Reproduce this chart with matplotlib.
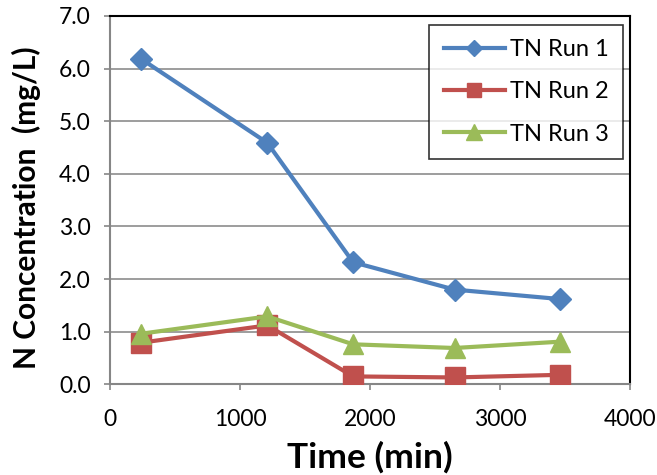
import matplotlib
matplotlib.use("Agg")
import matplotlib.pyplot as plt
from matplotlib.ticker import MultipleLocator, FormatStrFormatter

plt.rcParams['font.family'] = ['Lato', 'DejaVu Sans']

time_min = [236, 1210, 1870, 2650, 3462]
tn_run1 = [6.19, 4.59, 2.32, 1.80, 1.62]
tn_run2 = [0.79, 1.12, 0.15, 0.13, 0.18]
tn_run3 = [0.96, 1.29, 0.76, 0.69, 0.81]
series_labels = ["TN Run 1", "TN Run 2", "TN Run 3"]

W, H = 657, 475
fig = plt.figure(figsize=(W / 100, H / 100), dpi=100)
ax = fig.add_axes([110 / W, 1 - 384.3 / H, 520 / W, 368.3 / H])

ax.plot(time_min, tn_run1, color='#4F81BD', lw=3, marker='D', ms=11,
        mec='#4F81BD', label=series_labels[0], zorder=3)
ax.plot(time_min, tn_run2, color='#C0504D', lw=3, marker='s', ms=14,
        mec='#C0504D', label=series_labels[1], zorder=3)
ax.plot(time_min, tn_run3, color='#9BBB59', lw=3, marker='^', ms=15,
        mec='#9BBB59', label=series_labels[2], zorder=4)

ax.set_xlim(0, 4000)
ax.set_ylim(0, 7)
ax.xaxis.set_major_locator(MultipleLocator(1000))
ax.yaxis.set_major_locator(MultipleLocator(1))
ax.yaxis.set_major_formatter(FormatStrFormatter('%.1f'))

ax.grid(axis='y', color='#8C8C8C', lw=1.2)
ax.set_axisbelow(True)
for side in ('left', 'bottom'):
    ax.spines[side].set_color('#868686')
    ax.spines[side].set_linewidth(1.5)
for side in ('top', 'right'):
    ax.spines[side].set_color('black')
    ax.spines[side].set_linewidth(1.5)
ax.tick_params(axis='both', direction='out', length=4, width=1.2,
               color='#868686', labelsize=16.5)
ax.tick_params(axis='x', pad=14)
ax.tick_params(axis='y', pad=10)

# axis titles placed in figure pixels
fig.text(369.5 / W, 1 - 468 / H, 'Time (min)', fontsize=25.5,
         fontweight='bold', ha='center', va='baseline')
fig.text(26 / W, 1 - 208 / H, 'N Concentration  (mg/L)', fontsize=21.5,
         fontweight='bold', ha='center', va='center', rotation=90)

leg = ax.legend(loc='upper right', bbox_to_anchor=(622.7 / W, 1 - 25 / H),
                bbox_transform=fig.transFigure, fontsize=17, frameon=True,
                fancybox=False, edgecolor='black', handlelength=2.6,
                labelspacing=0.9, borderpad=0.6, handletextpad=0.2,
                borderaxespad=0)
leg.get_frame().set_linewidth(1.2)
for h in leg.legend_handles:
    h.set_markersize(h.get_markersize() * 0.75)

fig.savefig('out.png', dpi=100)
